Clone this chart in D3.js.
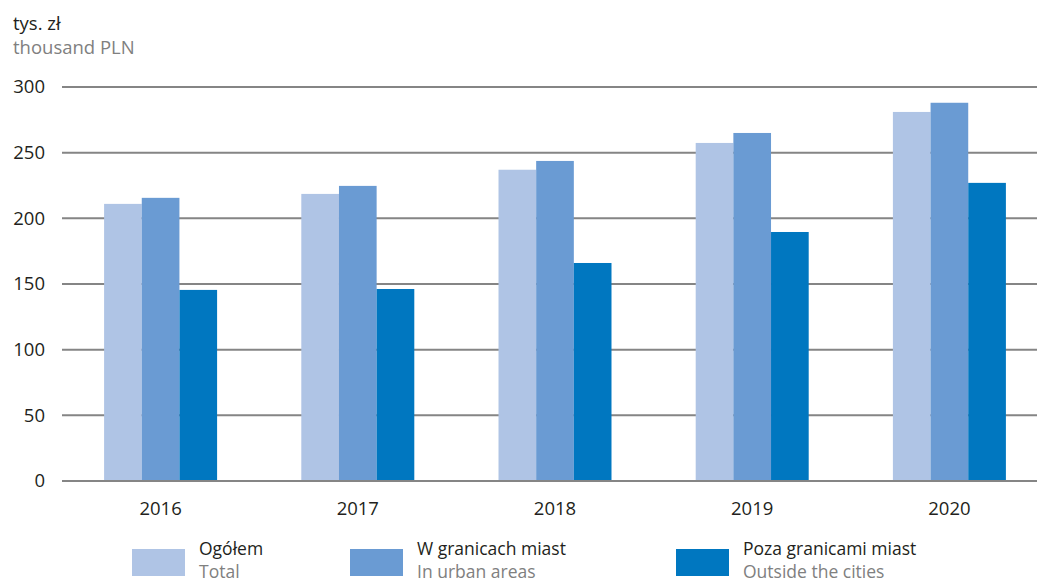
<!DOCTYPE html>
<html>
<head>
<meta charset="utf-8">
<script src="https://cdn.jsdelivr.net/npm/d3@7"></script>
<style>
  body { margin: 0; background: #fff; }
  svg { display: block; font-family: "Open Sans", "Noto Sans", sans-serif; }
  .tick-label { font-size: 18.5px; fill: #231f20; }
  .grid { stroke: #858585; stroke-width: 2; }
</style>
</head>
<body>
<div id="chart"></div>
<script>
// 数据
const years = ['2016', '2017', '2018', '2019', '2020'];
const totalValues = [211, 218.6, 237, 257.4, 281];
const urbanValues = [215.6, 224.7, 243.7, 265, 288];
const outsideValues = [145.5, 146.2, 166, 189.6, 227];
const yTicks = [0, 50, 100, 150, 200, 250, 300];

const seriesNames = [
    { pl: 'Ogółem', en: 'Total' },
    { pl: 'W granicach miast', en: 'In urban areas' },
    { pl: 'Poza granicami miast', en: 'Outside the cities' }
];
const seriesValues = [totalValues, urbanValues, outsideValues];
const colors = ['#afc4e5', '#6a9bd3', '#0077c0'];

const width = 1037, height = 583;

const svg = d3.select('#chart')
    .append('svg')
    .attr('width', width)
    .attr('height', height);

// 比例尺
const x = d3.scaleBand()
    .domain(years)
    .range([62, 1048])
    .paddingInner(0.427)
    .paddingOuter(0.2135);

const xInner = d3.scaleBand()
    .domain(d3.range(seriesValues.length))
    .range([0, x.bandwidth()]);

const y = d3.scaleLinear()
    .domain([0, 300])
    .range([481, 87]);

// 网格线
svg.selectAll('.grid')
    .data(yTicks)
    .enter()
    .append('line')
    .attr('class', 'grid')
    .attr('x1', 62)
    .attr('x2', width)
    .attr('y1', d => y(d))
    .attr('y2', d => y(d));

// Y 轴标签
svg.selectAll('.y-label')
    .data(yTicks)
    .enter()
    .append('text')
    .attr('class', 'tick-label')
    .attr('x', 45)
    .attr('y', d => y(d))
    .attr('dy', '0.35em')
    .attr('text-anchor', 'end')
    .text(d => d);

// 柱子
const groups = svg.selectAll('.year')
    .data(years)
    .enter()
    .append('g')
    .attr('transform', d => `translate(${x(d)},0)`);

groups.selectAll('rect')
    .data((d, i) => seriesValues.map((vals, s) => ({ s, v: vals[i] })))
    .enter()
    .append('rect')
    .attr('x', d => xInner(d.s))
    .attr('width', xInner.bandwidth())
    .attr('y', d => y(d.v))
    .attr('height', d => y(0) - y(d.v))
    .attr('fill', d => colors[d.s]);

// 零线在柱子上面
svg.append('line')
    .attr('class', 'grid')
    .attr('x1', 62)
    .attr('x2', width)
    .attr('y1', y(0))
    .attr('y2', y(0));

// X 轴标签
svg.selectAll('.x-label')
    .data(years)
    .enter()
    .append('text')
    .attr('class', 'tick-label')
    .attr('x', d => x(d) + x.bandwidth() / 2)
    .attr('y', 515)
    .attr('text-anchor', 'middle')
    .text(d => d);

// 单位
svg.append('text')
    .attr('x', 13)
    .attr('y', 30)
    .style('font-size', '18.5px')
    .attr('fill', '#231f20')
    .text('tys. zł');

svg.append('text')
    .attr('x', 13)
    .attr('y', 54)
    .style('font-size', '18.5px')
    .attr('fill', '#808080')
    .text('thousand PLN');

// 图例
const legendX = [132, 350, 676];
const legend = svg.selectAll('.legend')
    .data(seriesNames)
    .enter()
    .append('g')
    .attr('transform', (d, i) => `translate(${legendX[i]},549)`);

legend.append('rect')
    .attr('width', 53)
    .attr('height', 27)
    .attr('fill', (d, i) => colors[i]);

legend.append('text')
    .attr('x', 67)
    .attr('y', 6)
    .style('font-size', '17.5px')
    .attr('fill', '#231f20')
    .text(d => d.pl);

legend.append('text')
    .attr('x', 67)
    .attr('y', 29)
    .style('font-size', '17.5px')
    .attr('fill', '#808080')
    .text(d => d.en);
</script>
</body>
</html>
